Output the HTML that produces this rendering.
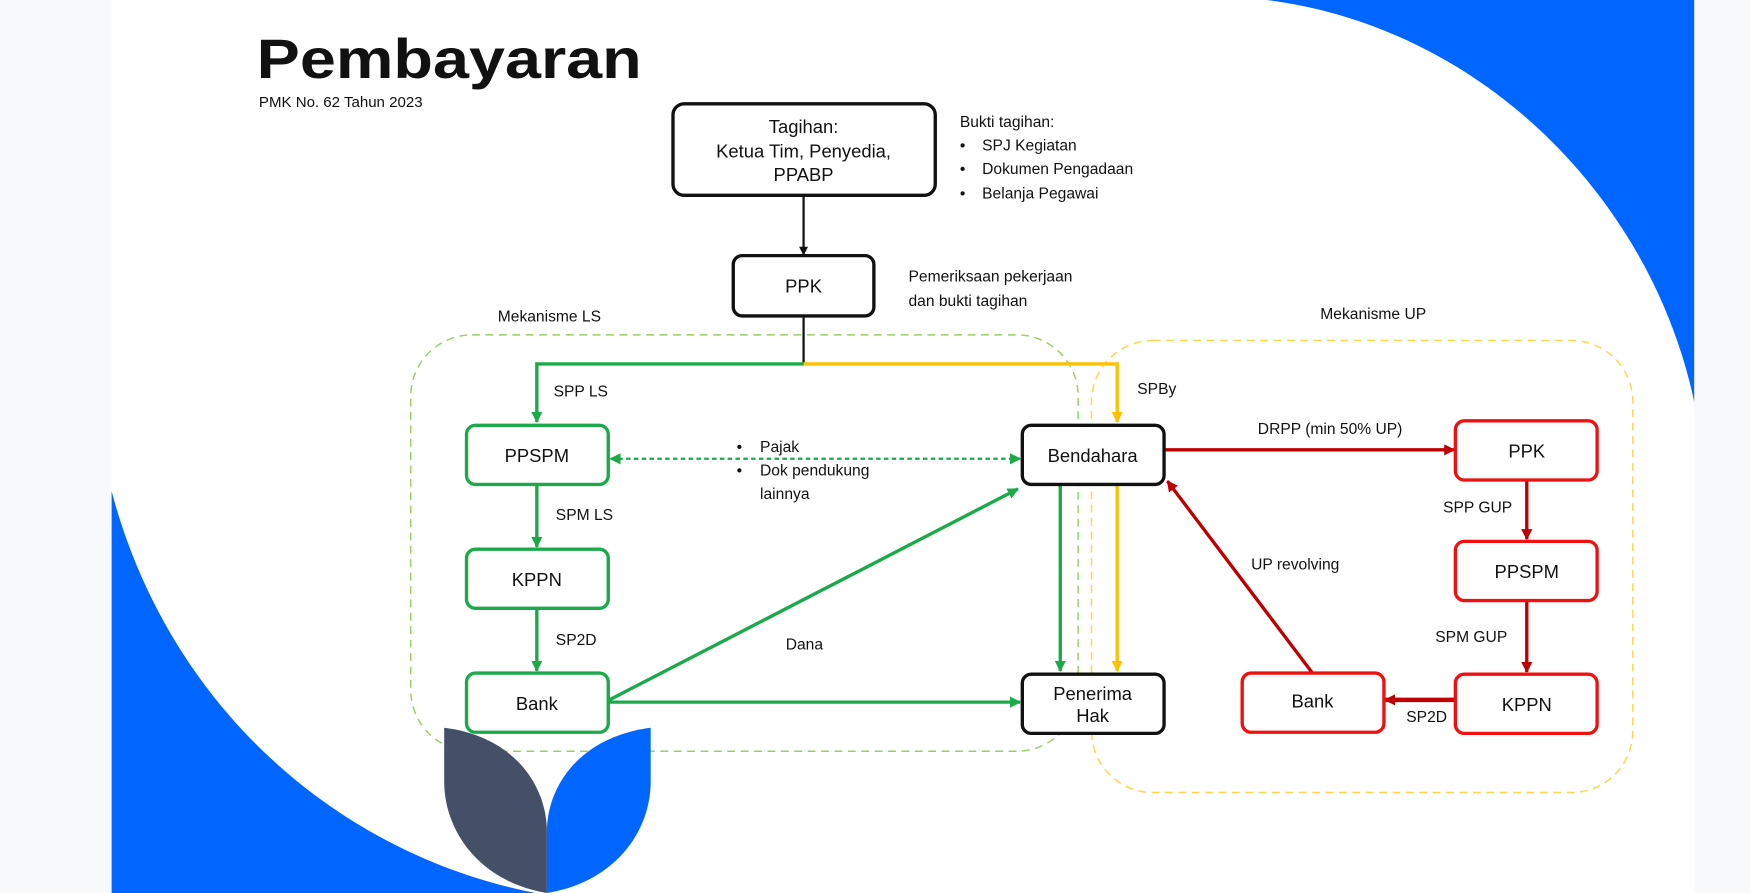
<!DOCTYPE html>
<html><head><meta charset="utf-8"><style>
html,body{margin:0;padding:0;background:#f8f9fb;}
svg{display:block}
text{font-family:"Liberation Sans",sans-serif;fill:#111;}
</style></head><body>
<svg width="1750" height="893" viewBox="0 0 1568 800" preserveAspectRatio="none" xmlns="http://www.w3.org/2000/svg">
<defs>
<marker id="ab" markerWidth="8" markerHeight="8" refX="7" refY="4" orient="auto" markerUnits="userSpaceOnUse"><path d="M0,0 L8,4 L0,8 Z" fill="#111"/></marker>
<marker id="ag" markerWidth="10" markerHeight="10" refX="9" refY="5" orient="auto-start-reverse" markerUnits="userSpaceOnUse"><path d="M0,0 L10,5 L0,10 Z" fill="#1aaa4a"/></marker>
<marker id="ay" markerWidth="10" markerHeight="10" refX="9" refY="5" orient="auto" markerUnits="userSpaceOnUse"><path d="M0,0 L10,5 L0,10 Z" fill="#ffc000"/></marker>
<marker id="ar" markerWidth="10" markerHeight="10" refX="9" refY="5" orient="auto" markerUnits="userSpaceOnUse"><path d="M0,0 L10,5 L0,10 Z" fill="#c00000"/></marker>
</defs>
<rect x="100" y="0" width="1418" height="800" fill="#fff"/>
<path d="M1135,0 C1330,25 1480,180 1518,360 L1518,0 Z" fill="#0066ff"/>
<path d="M100,440 C150,630 300,765 480,800 L100,800 Z" fill="#0066ff"/>

<text x="230" y="70" font-size="50" font-weight="bold" textLength="345" lengthAdjust="spacingAndGlyphs">Pembayaran</text>
<text x="232" y="96" font-size="13.5">PMK No. 62 Tahun 2023</text>

<rect x="368" y="300" width="598" height="373" rx="55" fill="none" stroke="#9ccc65" stroke-width="1.3" stroke-dasharray="7,5"/>
<rect x="978" y="305" width="485" height="405" rx="55" fill="none" stroke="#ffd54f" stroke-width="1.3" stroke-dasharray="7,5"/>
<text x="446" y="288" font-size="14">Mekanisme LS</text>
<text x="1183" y="286" font-size="14">Mekanisme UP</text>

<line x1="720" y1="175" x2="720" y2="228" stroke="#111" stroke-width="2" marker-end="url(#ab)"/>
<line x1="720" y1="283" x2="720" y2="327" stroke="#111" stroke-width="2"/>
<polyline points="720,326 481,326 481,378" fill="none" stroke="#1aaa4a" stroke-width="3" marker-end="url(#ag)"/>
<polyline points="720,326 1001,326 1001,378" fill="none" stroke="#ffc000" stroke-width="3" marker-end="url(#ay)"/>
<line x1="481" y1="434" x2="481" y2="490" stroke="#1aaa4a" stroke-width="3" marker-end="url(#ag)"/>
<line x1="481" y1="545" x2="481" y2="601" stroke="#1aaa4a" stroke-width="3" marker-end="url(#ag)"/>
<line x1="547" y1="411" x2="914" y2="411" stroke="#1aaa4a" stroke-width="2" stroke-dasharray="4,3" marker-start="url(#ag)" marker-end="url(#ag)"/>
<line x1="546" y1="627" x2="912" y2="438" stroke="#1aaa4a" stroke-width="3" marker-end="url(#ag)"/>
<line x1="546" y1="629" x2="914" y2="629" stroke="#1aaa4a" stroke-width="3" marker-end="url(#ag)"/>
<line x1="950" y1="434" x2="950" y2="601" stroke="#1aaa4a" stroke-width="3" marker-end="url(#ag)"/>
<line x1="1001" y1="434" x2="1001" y2="601" stroke="#ffc000" stroke-width="3" marker-end="url(#ay)"/>
<line x1="1043" y1="403" x2="1303" y2="403" stroke="#c00000" stroke-width="3" marker-end="url(#ar)"/>
<line x1="1368" y1="430" x2="1368" y2="483" stroke="#c00000" stroke-width="3" marker-end="url(#ar)"/>
<line x1="1368" y1="538" x2="1368" y2="602" stroke="#c00000" stroke-width="3" marker-end="url(#ar)"/>
<line x1="1304" y1="627" x2="1241" y2="627" stroke="#c00000" stroke-width="4" marker-end="url(#ar)"/>
<line x1="1176" y1="603" x2="1046" y2="431" stroke="#c00000" stroke-width="3" marker-end="url(#ar)"/>

<g fill="#fff" stroke-width="3">
<rect x="603" y="93" width="235" height="82" rx="10" stroke="#111"/>
<rect x="657" y="229" width="126" height="54" rx="8" stroke="#111"/>
<rect x="418" y="381" width="127" height="53" rx="8" stroke="#1aaa4a"/>
<rect x="418" y="492" width="127" height="53" rx="8" stroke="#1aaa4a"/>
<rect x="418" y="603" width="127" height="53" rx="8" stroke="#1aaa4a"/>
<rect x="916" y="381" width="127" height="53" rx="8" stroke="#111"/>
<rect x="916" y="604" width="127" height="53" rx="8" stroke="#111"/>
<rect x="1304" y="377" width="127" height="53" rx="8" stroke="#f01010"/>
<rect x="1304" y="485" width="127" height="53" rx="8" stroke="#f01010"/>
<rect x="1304" y="604" width="127" height="53" rx="8" stroke="#f01010"/>
<rect x="1113" y="603" width="127" height="53" rx="8" stroke="#f01010"/>
</g>
<g font-size="16.5" text-anchor="middle">
<text x="720" y="119">Tagihan:</text>
<text x="720" y="141">Ketua Tim, Penyedia,</text>
<text x="720" y="162">PPABP</text>
<text x="720" y="262">PPK</text>
<text x="481" y="414">PPSPM</text>
<text x="481" y="525">KPPN</text>
<text x="481" y="636">Bank</text>
<text x="979" y="414">Bendahara</text>
<text x="979" y="627">Penerima</text>
<text x="979" y="647">Hak</text>
<text x="1368" y="410">PPK</text>
<text x="1368" y="518">PPSPM</text>
<text x="1368" y="637">KPPN</text>
<text x="1176" y="634">Bank</text>
</g>

<g font-size="14">
<text x="860" y="114">Bukti tagihan:</text>
<text x="860" y="135">•<tspan x="880">SPJ Kegiatan</tspan></text>
<text x="860" y="156">•<tspan x="880">Dokumen Pengadaan</tspan></text>
<text x="860" y="178">•<tspan x="880">Belanja Pegawai</tspan></text>
<text x="814" y="252">Pemeriksaan pekerjaan</text>
<text x="814" y="274">dan bukti tagihan</text>
<text x="496" y="355">SPP LS</text>
<text x="498" y="466">SPM LS</text>
<text x="498" y="578">SP2D</text>
<text x="704" y="582">Dana</text>
<text x="660" y="405">•<tspan x="681">Pajak</tspan></text>
<text x="660" y="426">•<tspan x="681">Dok pendukung</tspan></text>
<text x="681" y="447">lainnya</text>
<text x="1019" y="353">SPBy</text>
<text x="1127" y="389">DRPP (min 50% UP)</text>
<text x="1293" y="459">SPP GUP</text>
<text x="1121" y="510">UP revolving</text>
<text x="1286" y="575">SPM GUP</text>
<text x="1260" y="647">SP2D</text>
</g>

<path d="M398,652 C462,660 490,705 490,745 L490,800 C430,790 398,745 398,700 Z" fill="#435068"/>
<path d="M583,652 C519,660 490,705 490,745 L490,800 C551,790 583,745 583,700 Z" fill="#0066ff"/>
</svg>
</body></html>
